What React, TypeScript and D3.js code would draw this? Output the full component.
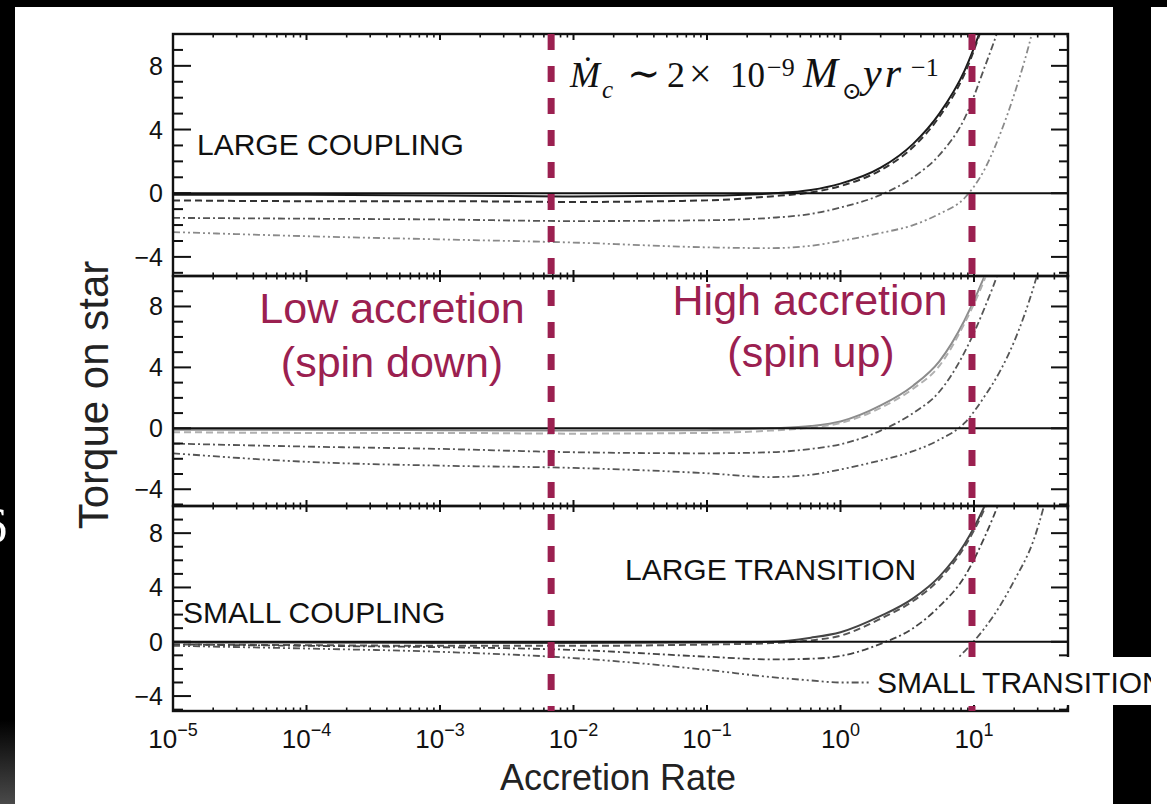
import * as d3 from "d3";

// accretion rates (x) at which the torque curves are sampled
const rates = [1e-5, 1e-4, 1e-3, 1e-2, 0.1, 0.3, 0.6, 1, 2, 3.5, 5.5, 8.5, 12, 16, 20, 28, 40];

// LARGE COUPLING panel
const largeSolid = [-0.1, -0.1, -0.15, -0.2, -0.15, -0.02, 0.2, 0.6, 1.6, 3.1, 5.0, 7.7, 11, 14.5, 18, 25, 35];
const largeDashed = [-0.45, -0.5, -0.5, -0.55, -0.45, -0.2, 0.05, 0.45, 1.45, 2.9, 4.8, 7.5, 10.9, 14.3, 18, 25, 35];
const largeDashDot = [-1.55, -1.6, -1.65, -1.75, -1.7, -1.55, -1.3, -0.9, -0.1, 1.0, 2.4, 4.7, 7.9, 10.9, 13.9, 20, 29];
const largeDashDot3 = [-2.44, -2.7, -2.9, -3.1, -3.4, -3.45, -3.3, -3.0, -2.5, -2.0, -1.3, -0.3, 1.5, 3.9, 6.2, 10.5, 17];

// middle panel (spin down / spin up)
const midSolid = [-0.1, -0.1, -0.12, -0.15, -0.12, 0.0, 0.15, 0.45, 1.5, 2.8, 4.4, 7.1, 10, 13, 17, 24, 34];
const midDashed = [-0.25, -0.3, -0.3, -0.35, -0.3, -0.15, 0.05, 0.35, 1.35, 2.6, 4.1, 6.9, 9.8, 13, 17, 24, 34];
const midDashDot = [-1.0, -1.2, -1.35, -1.57, -1.64, -1.57, -1.35, -1.05, -0.15, 1.0, 2.4, 5.0, 7.9, 10.8, 13.6, 19, 27];
const midDashDot3 = [-1.64, -2.2, -2.45, -2.6, -2.95, -3.2, -3.05, -2.7, -2.1, -1.5, -0.75, 0.35, 2.1, 3.9, 5.7, 9.3, 14.5];

// SMALL COUPLING panel
const smallSolid = [-0.05, -0.05, -0.1, -0.1, -0.05, 0.0, 0.3, 0.7, 1.9, 3.2, 4.8, 7.2, 10, 13, 16, 22, 30];
const smallDashed = [-0.2, -0.25, -0.3, -0.3, -0.2, -0.1, 0.1, 0.45, 1.7, 3.0, 4.6, 7.0, 9.8, 13, 16, 22, 30];
const smallDashDot = [-0.2, -0.3, -0.4, -0.6, -1.1, -1.3, -1.25, -1.05, -0.15, 1.0, 2.6, 4.8, 7.7, 10.7, 13.5, 19, 27];
const smallDashDot3 = [-0.3, -0.5, -0.74, -1.2, -2.07, -2.6, -2.85, -3.0, -3.0, -2.8, -2.3, -0.7, 1.0, 2.8, 4.5, 7.5, 13];

const yTicks = [-4, 0, 4, 8];
const xTickExps = [-5, -4, -3, -2, -1, 0, 1];
const criticalRates = [0.0068, 9.66];

const W = 1167;
const H = 804;
const X0 = 173;
const X1 = 1068;
const RED = "#9b2050";

const x = d3.scaleLog().domain([1e-5, 50.6]).range([X0, X1]);

const dashes = [null, "7,4", "7,3,2,3", "7,3,2,3,2,3"];

const panels = [
  {
    top: 34, bottom: 276, ymin: -5.2,
    series: [largeSolid, largeDashed, largeDashDot, largeDashDot3],
    colors: ["#1a1a1a", "#333", "#555", "#8a8a8a"],
  },
  {
    top: 276, bottom: 506, ymin: -5.1,
    series: [midSolid, midDashed, midDashDot, midDashDot3],
    colors: ["#8c8c8c", "#b0b0b0", "#555", "#555"],
  },
  {
    top: 506, bottom: 711, ymin: -5.1,
    series: [smallSolid, smallDashed, smallDashDot, smallDashDot3],
    colors: ["#444", "#555", "#444", "#555"],
  },
];

const xMinor: number[] = [];
for (let e = -5; e <= 1; e++) {
  for (let m = 2; m <= 9; m++) {
    const v = m * Math.pow(10, e);
    if (v < 50.6) xMinor.push(v);
  }
}

const sans = "'Liberation Sans', Arial, Helvetica, sans-serif";
const serif = "'Liberation Serif', 'DejaVu Serif', serif";

function Panel({ p, idx }: { p: (typeof panels)[number]; idx: number }) {
  const y = d3.scaleLinear().domain([p.ymin, 10]).range([p.bottom, p.top]);
  const line = d3
    .line<number>()
    .x((_, i) => x(rates[i]))
    .y((d) => y(d))
    .curve(d3.curveMonotoneX);
  const minorY = d3.range(Math.ceil(p.ymin), 10).filter((v) => !yTicks.includes(v));
  const clipId = `clip${idx}`;
  return (
    <g>
      <clipPath id={clipId}>
        <rect x={X0} y={p.top} width={X1 - X0} height={p.bottom - p.top} />
      </clipPath>
      <g clipPath={`url(#${clipId})`}>
        {p.series.map((s, i) => (
          <path
            key={i}
            d={line(s) || ""}
            fill="none"
            stroke={p.colors[i]}
            strokeWidth={i < 2 ? 2 : 1.8}
            strokeDasharray={dashes[i] || undefined}
          />
        ))}
      </g>
      {/* zero line */}
      <line x1={X0} x2={X1} y1={y(0)} y2={y(0)} stroke="#111" strokeWidth={2} />
      {/* y ticks, both sides */}
      {yTicks.map((t) => (
        <g key={t}>
          <line x1={X0} x2={X0 + 18} y1={y(t)} y2={y(t)} stroke="#111" strokeWidth={2} />
          <line x1={X1} x2={X1 - 17} y1={y(t)} y2={y(t)} stroke="#111" strokeWidth={2} />
          <text
            x={163}
            y={y(t) + 9}
            textAnchor="end"
            fontSize={25}
            fontFamily={sans}
            fill="#111"
          >
            {t < 0 ? `\u2212${Math.abs(t)}` : t}
          </text>
        </g>
      ))}
      {minorY.map((t) => (
        <g key={"m" + t}>
          <line x1={X0} x2={X0 + 10} y1={y(t)} y2={y(t)} stroke="#111" strokeWidth={2} />
          <line x1={X1} x2={X1 - 9} y1={y(t)} y2={y(t)} stroke="#111" strokeWidth={2} />
        </g>
      ))}
      {/* x ticks top and bottom */}
      {xTickExps.map((e) => {
        const xx = x(Math.pow(10, e));
        return (
          <g key={"x" + e}>
            <line x1={xx} x2={xx} y1={p.top} y2={p.top + 6} stroke="#111" strokeWidth={2} />
            <line x1={xx} x2={xx} y1={p.bottom} y2={p.bottom - 6} stroke="#111" strokeWidth={2} />
          </g>
        );
      })}
      {xMinor.map((v, i) => (
        <g key={"xm" + i}>
          <line x1={x(v)} x2={x(v)} y1={p.top} y2={p.top + 3.5} stroke="#111" strokeWidth={1.6} />
          <line x1={x(v)} x2={x(v)} y1={p.bottom} y2={p.bottom - 3.5} stroke="#111" strokeWidth={1.6} />
        </g>
      ))}
      <rect
        x={X0}
        y={p.top}
        width={X1 - X0}
        height={p.bottom - p.top}
        fill="none"
        stroke="#111"
        strokeWidth={2.4}
      />
    </g>
  );
}

export default function App() {
  const top = panels[0].top;
  const bottom = panels[2].bottom;
  return (
    <svg
      width={W}
      height={H}
      style={{ position: "absolute", left: 0, top: 0, display: "block" }}
    >
      <defs>
        <linearGradient id="edge" x1="0" y1="0" x2="0" y2="1">
          <stop offset="0" stopColor="#000" />
          <stop offset="1" stopColor="#4a4a4a" />
        </linearGradient>
      </defs>
      <rect x={0} y={0} width={W} height={H} fill="#000" />
      <rect x={0} y={720} width={15} height={H - 720} fill="url(#edge)" />
      <text x={-18} y={542} fontSize={50} fontFamily={serif} fill="#fff">
        6
      </text>
      <rect x={15} y={7} width={1098} height={H - 7} fill="#fff" />

      {panels.map((p, i) => (
        <Panel key={i} p={p} idx={i} />
      ))}

      {/* critical accretion rate markers */}
      {criticalRates.map((r) => (
        <line
          key={r}
          x1={x(r)}
          x2={x(r)}
          y1={top}
          y2={bottom}
          stroke={RED}
          strokeWidth={7}
          strokeDasharray="16,16"
        />
      ))}

      {/* x tick labels */}
      {xTickExps.map((e) => (
        <text
          key={e}
          x={x(Math.pow(10, e))}
          y={748}
          textAnchor="middle"
          fontSize={26}
          fontFamily={sans}
          fill="#111"
        >
          <tspan>10</tspan>
          <tspan dy={-12} fontSize={18}>
            {e < 0 ? `\u2212${Math.abs(e)}` : e}
          </tspan>
        </text>
      ))}

      <text x={618} y={790} textAnchor="middle" fontSize={36} fontFamily={sans} fill="#222">
        Accretion Rate
      </text>
      <text
        transform="translate(108,395) rotate(-90)"
        textAnchor="middle"
        fontSize={42}
        fontFamily={sans}
        fill="#222"
      >
        Torque on star
      </text>

      {/* panel annotations */}
      <text x={197} y={155} fontSize={30} fontFamily={sans} fill="#111">
        LARGE COUPLING
      </text>
      <text x={183} y={623} fontSize={30} fontFamily={sans} fill="#111">
        SMALL COUPLING
      </text>
      <text x={625} y={580} fontSize={30} fontFamily={sans} fill="#111">
        LARGE TRANSITION
      </text>

      <g fontFamily={sans} fontSize={43} fill={RED} textAnchor="middle">
        <text x={392} y={323}>Low accretion</text>
        <text x={392} y={377}>(spin down)</text>
        <text x={810} y={315}>High accretion</text>
        <text x={811} y={367}>(spin up)</text>
      </g>

      <text fontFamily={serif} fontSize={35} fill="#111">
        <tspan x={570} y={87} fontStyle="italic" fontSize={36}>{"\u1E40"}</tspan>
        <tspan x={602} y={98} fontStyle="italic" fontSize={25}>c</tspan>
        <tspan x={627} y={87} fontSize={40}>{"\u223C"}</tspan>
        <tspan x={667} y={87} fontSize={36}>2</tspan>
        <tspan x={689} y={87} fontSize={40}>{"\u00D7"}</tspan>
        <tspan x={730} y={87} fontSize={35}>10</tspan>
        <tspan x={767} y={76} fontSize={26}>{"\u22129"}</tspan>
        <tspan x={803} y={87} fontStyle="italic" fontSize={42}>M</tspan>
        <tspan x={842} y={99} fontSize={24}>{"\u2299"}</tspan>
        <tspan x={863} y={87} fontStyle="italic" fontSize={42} letterSpacing={3}>yr</tspan>
        <tspan x={911} y={76} fontSize={26}>{"\u22121"}</tspan>
      </text>

      {/* label box overlapping the frame */}
      <rect x={870} y={657} width={W - 870} height={48} fill="#fff" />
      <text x={877} y={693} fontSize={30} fontFamily={sans} fill="#111">
        SMALL TRANSITION
      </text>
      <rect x={1113} y={7} width={38} height={650} fill="#000" />
      <rect x={1113} y={705} width={38} height={H - 705} fill="#000" />
      <rect x={1151} y={7} width={W - 1151} height={H - 7} fill="#fff" />
    </svg>
  );
}
